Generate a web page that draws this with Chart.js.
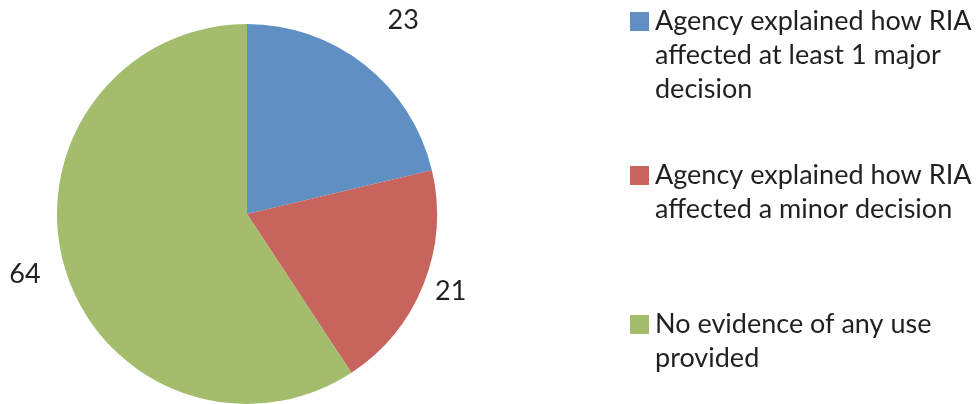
<!DOCTYPE html>
<html>
<head>
<meta charset="utf-8">
<script src="https://cdn.jsdelivr.net/npm/chart.js@4.4.1/dist/chart.umd.min.js"></script>
<style>
  html, body { margin: 0; padding: 0; background: #fff; }
  #wrap { width: 978px; height: 404px; position: relative; }
</style>
</head>
<body>
<div id="wrap"><canvas id="c" width="978" height="404"></canvas></div>
<script>
var categories = [
  ["Agency explained how RIA", "affected at least 1 major", "decision"],
  ["Agency explained how RIA", "affected a minor decision"],
  ["No evidence of any use", "provided"]
];
var values = [23, 21, 64];
var colours = ["#5f8fc3", "#c6645d", "#a3bd6d"];

// value labels outside the pie (distance from centre, angle tweak in degrees)
var labelDist = [249, 218, 230];
var labelTurn = [0.5, -0.8, 1.5];

var valueLabels = {
  id: "valueLabels",
  afterDatasetsDraw: function (chart) {
    var ctx = chart.ctx;
    var meta = chart.getDatasetMeta(0);
    ctx.save();
    ctx.font = "27px Lato";
    ctx.fillStyle = "#231f20";
    ctx.textAlign = "center";
    ctx.textBaseline = "middle";
    meta.data.forEach(function (arc, i) {
      var mid = (arc.startAngle + arc.endAngle) / 2 + labelTurn[i] * Math.PI / 180;
      var x = arc.x + Math.cos(mid) * labelDist[i];
      var y = arc.y + Math.sin(mid) * labelDist[i];
      ctx.fillText(String(values[i]), x, y);
    });
    ctx.restore();
  }
};

// legend on the right, wrapped like the original
var legendTop = [21, 175, 324];
var sideLegend = {
  id: "sideLegend",
  afterDraw: function (chart) {
    var ctx = chart.ctx;
    ctx.save();
    ctx.font = "27px Lato";
    ctx.textBaseline = "middle";
    ctx.textAlign = "left";
    categories.forEach(function (lines, i) {
      var y0 = legendTop[i];
      ctx.fillStyle = colours[i];
      ctx.fillRect(630, y0 - 9, 19, 19);
      ctx.fillStyle = "#231f20";
      lines.forEach(function (t, k) {
        ctx.fillText(t, 655, y0 + k * 34);
      });
    });
    ctx.restore();
  }
};

new Chart(document.getElementById("c"), {
  type: "pie",
  data: {
    labels: categories.map(function (l) { return l.join(" "); }),
    datasets: [{
      data: values,
      backgroundColor: colours,
      borderWidth: 0
    }]
  },
  options: {
    responsive: false,
    animation: false,
    layout: { padding: { left: 57, right: 541, top: 24, bottom: 0 } },
    plugins: {
      legend: { display: false },
      tooltip: { enabled: false }
    }
  },
  plugins: [valueLabels, sideLegend]
});
</script>
</body>
</html>
